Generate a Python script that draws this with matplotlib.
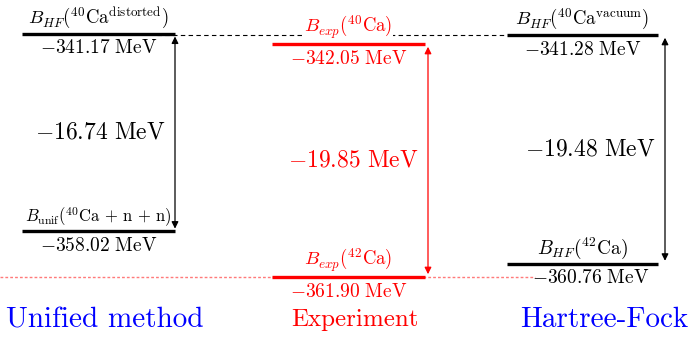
import matplotlib
matplotlib.use("Agg")
import matplotlib.pyplot as plt
import matplotlib.transforms as mtransforms

plt.rcParams['mathtext.fontset'] = 'cm'
plt.rcParams['font.family'] = 'cmr10'
plt.rcParams['axes.unicode_minus'] = False

# energy levels (MeV) for each column
methods = ['Unified method', 'Experiment', 'Hartree-Fock']
upper_energy = [-341.17, -342.05, -341.28]
lower_energy = [-358.02, -361.90, -360.76]
gap_energy = [-16.74, -19.85, -19.48]
upper_labels = [r'$B_{HF}({}^{40}\mathrm{Ca}^{\mathrm{distorted}})$',
                r'$B_{exp}({}^{40}\mathrm{Ca})$',
                r'$B_{HF}({}^{40}\mathrm{Ca}^{\mathrm{vacuum}})$']
lower_labels = [r'$B_{\mathrm{unif}}({}^{40}\mathrm{Ca}\,+\,\mathrm{n}\,+\,\mathrm{n})$',
                r'$B_{exp}({}^{42}\mathrm{Ca})$',
                r'$B_{HF}({}^{42}\mathrm{Ca})$']

colors = ['black', 'red', 'black']
title_colors = ['blue', 'red', 'blue']
x_start = [22, 272, 507]
x_end = [175, 425, 658]
arrow_x = [175, 428, 665]
lower_label_size = [12, 13.5, 14]


def mev(v):
    return r'$%.2f\ \mathrm{MeV}$' % v


fig = plt.figure(figsize=(6.94, 3.38), dpi=100)
ax = fig.add_axes([0, 0, 1, 1])
ax.set_xlim(0, 694)
ax.set_ylim(-367.1, -338.3)
ax.axis('off')

# connecting guide lines
ax.plot([157, x_start[2]], [upper_energy[2], upper_energy[2]], color='black',
        lw=0.8, ls=(0, (4, 3)), zorder=1)
ax.plot([0, 535], [lower_energy[1], lower_energy[1]], color='#ff7a7a',
        lw=1.0, ls=(0, (2, 1.5)), zorder=1)

for i in range(3):
    c = colors[i]
    xc = (x_start[i] + x_end[i]) / 2
    for e in (upper_energy[i], lower_energy[i]):
        ax.plot([x_start[i], x_end[i]], [e, e], color=c, lw=2.4,
                solid_capstyle='butt', zorder=2)

    ax.annotate(upper_labels[i], (xc, upper_energy[i]), xytext=(0, 2),
                textcoords='offset points', ha='center', va='bottom',
                color=c, fontsize=13.5, zorder=3,
                bbox=dict(fc='white', ec='none', pad=0.5))
    ax.annotate(mev(upper_energy[i]), (xc, upper_energy[i]), xytext=(0, -4),
                textcoords='offset points', ha='center', va='top',
                color=c, fontsize=14)
    ax.annotate(lower_labels[i], (xc, lower_energy[i]), xytext=(0, 2),
                textcoords='offset points', ha='center', va='bottom',
                color=c, fontsize=lower_label_size[i])
    ax.annotate(mev(lower_energy[i]), (xc + (8 if i == 2 else 0), lower_energy[i]),
                xytext=(0, -4), textcoords='offset points', ha='center',
                va='top', color=c, fontsize=14)

    # double arrow spanning the gap
    ax.annotate('', xy=(arrow_x[i], lower_energy[i]),
                xytext=(arrow_x[i], upper_energy[i]),
                arrowprops=dict(arrowstyle='<|-|>', color=c, lw=0.9,
                                mutation_scale=10, shrinkA=2, shrinkB=2))
    mid = (upper_energy[i] + lower_energy[i]) / 2
    ax.annotate(mev(gap_energy[i]), (arrow_x[i], mid), xytext=(-7, 0),
                textcoords='offset points', ha='right', va='center',
                color=c, fontsize=17)

trans = mtransforms.blended_transform_factory(ax.transData, ax.transAxes)
title_x = [105, 355, 604]
title_size = [21, 18, 21]
for i, name in enumerate(methods):
    ax.text(title_x[i], 0.053, name, transform=trans, ha='center',
            va='center', color=title_colors[i], fontsize=title_size[i])

fig.savefig('out.png', dpi=100)
